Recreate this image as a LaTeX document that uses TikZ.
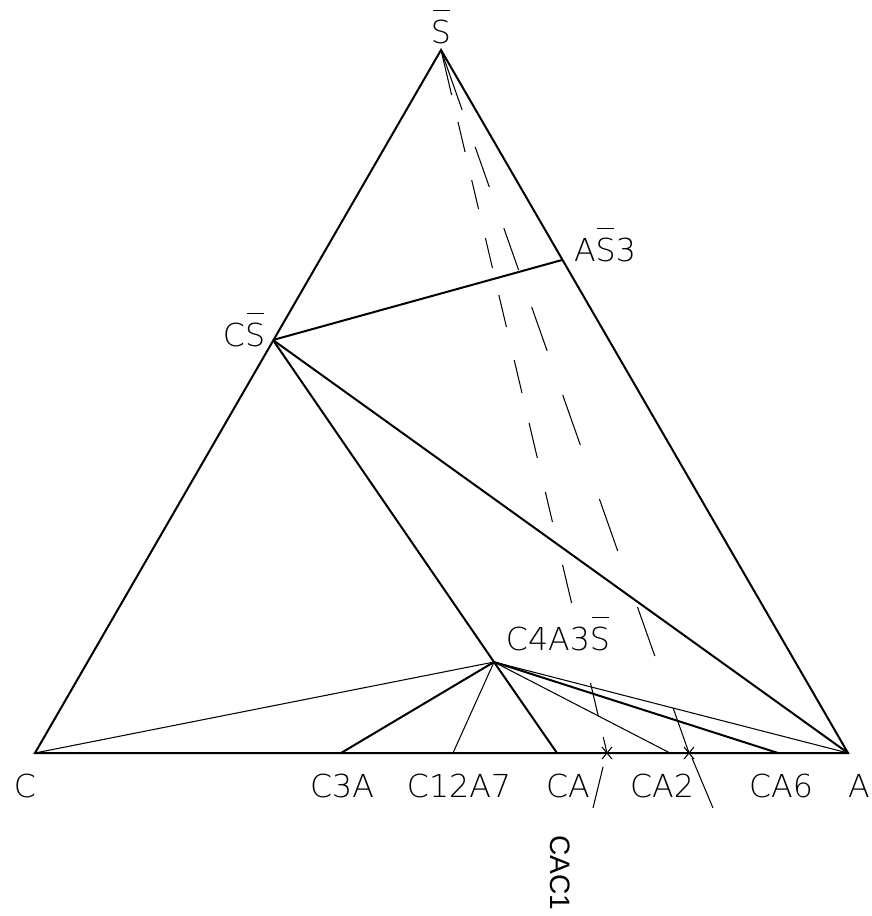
\documentclass[tikz,border=0pt]{standalone}
\usepackage{fontspec}
\setmainfont{DejaVu Sans ExtraLight}
\newfontfamily\arialfont{Liberation Sans}
\usetikzlibrary{calc}
\newcommand{\sbar}{\leavevmode\rlap{\kern0.05em\rule[1.0em]{0.54em}{0.04em}}S}

\begin{document}
\begin{tikzpicture}[x=0.3mm,y=-0.3mm,
    every node/.style={font=\fontsize{27}{30}\selectfont,inner sep=0pt},
    heavy/.style={line width=1.7pt},
    light/.style={line width=0.9pt}]
  \useasboundingbox (0,0) rectangle (872,916);
  % vertices of the triangle
  \coordinate (s) at (441,50);
  \coordinate (c) at (35,753);
  \coordinate (a) at (848,753);
  % compounds
  \coordinate (cs) at (273,340);
  \coordinate (as3) at (562,260);
  \coordinate (c4a3s) at (494,662);
  \coordinate (c3a) at (341,753);
  \coordinate (c12a7) at (453,753);
  \coordinate (ca) at (557,753);
  \coordinate (ca2) at (670,753);
  \coordinate (ca6) at (778,753);
  % marked points
  \coordinate (m1) at (607,753);
  \coordinate (m2) at (689,753);
  \coordinate (t1) at (603,767);
  \coordinate (b1) at (593,808);
  \coordinate (t2) at (692,758);
  \coordinate (b2) at (713,808);

  \draw[heavy] (c) -- (s) -- (a) -- cycle;
  \draw[heavy] (cs) -- (as3);
  \draw[heavy] (cs) -- (a);
  \draw[heavy] (cs) -- (c4a3s);
  \draw[light] (c4a3s) -- (c);
  \draw[heavy] (c4a3s) -- (c3a);
  \draw[light] (c4a3s) -- (c12a7);
  \draw[heavy] (c4a3s) -- (ca);
  \draw[light] (c4a3s) -- (ca2);
  \draw[heavy] (c4a3s) -- (ca6);
  \draw[light] (c4a3s) -- (a);

  % dashed joins from the apex
  \foreach \p/\q in {50/95,122/152,180/209,238/268,295/327,360/393,
                     423/458,492/522,565/603,683/716,737/753}
    \draw[light] ($(s)!{(\p-50)/703}!(m1)$) -- ($(s)!{(\q-50)/703}!(m1)$);
  \foreach \p/\q in {50/110,147/187,228/270,307/351,395/445,499/551,
                     607/656,708/753}
    \draw[light] ($(s)!{(\p-50)/703}!(m2)$) -- ($(s)!{(\q-50)/703}!(m2)$);
  \draw[light] (t1) -- (b1);
  \draw[light] (t2) -- (b2);
  \foreach \m in {m1,m2}
    \draw[light] ($(\m)+(-7,0)$) -- ($(\m)+(7,0)$)
                 ($(\m)+(-5,-6)$) -- ($(\m)+(5,6)$)
                 ($(\m)+(-5,6)$) -- ($(\m)+(5,-6)$);

  % labels
  \node[anchor=base] (lbl-s) at (441,43) {\sbar};
  \node[anchor=base] (lbl-cs) at (244,346) {C\sbar};
  \node[anchor=base] (lbl-as3) at (605,261) {A\sbar3};
  \node[anchor=base] (lbl-c4a3s) at (558,650) {C4A3\sbar};
  \node[anchor=base] (lbl-c) at (25,797) {C};
  \node[anchor=base] (lbl-c3a) at (342,797) {C3A};
  \node[anchor=base] (lbl-c12a7) at (459,797) {C12A7};
  \node[anchor=base] (lbl-ca) at (568,797) {CA};
  \node[anchor=base] (lbl-ca2) at (662,797) {CA2};
  \node[anchor=base] (lbl-ca6) at (781,797) {CA6};
  \node[anchor=base] (lbl-a) at (859,797) {A};
  \node[rotate=-90,anchor=base west,font=\arialfont\fontsize{24}{26}\selectfont]
    (lbl-cac1) at (550,835) {CAC1};
\end{tikzpicture}
\end{document}
